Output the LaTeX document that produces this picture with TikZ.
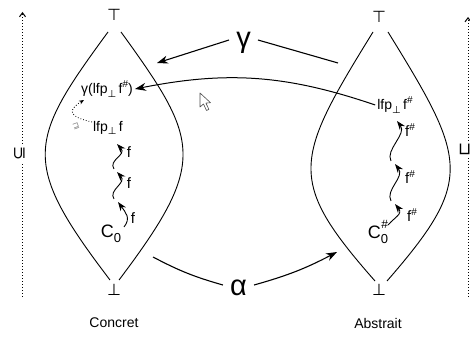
\documentclass[tikz,border=0pt]{standalone}
\usepackage{fontspec}
\setmainfont{Liberation Sans}
\newfontfamily\symfont{DejaVu Sans}
\usetikzlibrary{arrows.meta}
\newcommand{\fs}[1]{\fontsize{#1}{#1}\selectfont}
\newcommand{\botsub}{\raisebox{-3.5pt}{\fs{10}\symfont ⊥}}
\newcommand{\shsup}{\raisebox{6pt}{\fs{10}\#}}
\begin{document}
\begin{tikzpicture}[x=1pt,y=1pt,
  lens/.style={line width=0.9pt},
  wave/.style={line width=0.9pt,-{Stealth[length=9pt,width=6.5pt]}},
  big/.style={line width=1.1pt},
  bigtip/.style={big,-{Stealth[length=11pt,width=8pt]}},
  axisline/.style={line width=1pt,dash pattern=on 1pt off 2pt,-{Straight Barb[length=4pt,width=6pt]}},
  axlbl/.style={fill=white,rotate=90,font=\symfont\fs{17},inner sep=1pt},
  txt/.style={inner sep=2pt,font=\fs{14}},
  flbl/.style={inner sep=1pt,font=\fs{15}},
  bottop/.style={inner sep=1pt,font=\symfont\fs{16}},
  greek/.style={inner xsep=7pt,inner ysep=1pt,font=\fs{29}},
  caption/.style={font=\fs{14}}]
\useasboundingbox (0,0) rectangle (470,339);

% axes
\coordinate (axLb) at (22.5,42);
\coordinate (axLt) at (22.5,327);
\coordinate (axRb) at (468,42);
\coordinate (axRt) at (468,322);
\draw[axisline] (axLb) -- (axLt);
\draw[axisline] (axRb) -- (axRt);
\node[axlbl] (subl) at (19.5,185.5) {⊆};
\node[axlbl] (sqsub) at (466,189.5) {⊑};

% lenses
\draw[lens] (108,307) .. controls (28,198) and (20,177) .. (110,59);
\draw[lens] (121,307) .. controls (200,198) and (208,177) .. (119,59);
\draw[lens] (373,307) .. controls (294,179) and (286,159) .. (375,58);
\draw[lens] (388,307) .. controls (467,179) and (475,159) .. (387,58);

\node[bottop] (topL) at (114,324) {⊤};
\node[bottop] (botL) at (114,49) {⊥};
\node[bottop] (topR) at (379,322.5) {⊤};
\node[bottop] (botR) at (379,49.5) {⊥};

% concrete side
\node[txt] (glfp) at (107,250) {γ(lfp\botsub\,f\shsup)};
\node[txt] (lfpL) at (108,211) {lfp\botsub\,f};
\node[inner sep=1pt] (c0) at (111,105) {\fs{18}C\raisebox{-5pt}{\fs{13}0}};

\coordinate (l1s) at (124,112);
\coordinate (l1t) at (118,137);
\coordinate (l2s) at (114,140);
\coordinate (l2t) at (117,167);
\coordinate (l3s) at (114,170);
\coordinate (l3t) at (117,195);
\draw[wave] (l1s) .. controls +(7,9) and +(8,-11) .. (l1t);
\draw[wave] (l2s) .. controls +(-6,9) and +(10,-11) .. (l2t);
\draw[wave] (l3s) .. controls +(-6,9) and +(10,-11) .. (l3t);
\node[flbl] (f1) at (133,121) {f};
\node[flbl] (f2) at (129,156) {f};
\node[flbl] (f3) at (129,187) {f};

% dotted arrow and small glyph
\coordinate (d1) at (92,217);
\coordinate (d3) at (84,239);
\draw[line width=0.8pt,dotted,-{Stealth[length=5pt,width=4pt]}] (d1) .. controls (70,222) and (66,228) .. (d3);
\node[inner sep=0pt,text=gray,font=\symfont\fs{8},rotate=20] (sqg) at (76,213) {⊒};

% abstract side
\node[txt] (lfpR) at (395,234) {lfp\botsub\,f\shsup};
\node[inner sep=1pt] (c0a) at (378,107) {\fs{18}C\raisebox{-5pt}{\fs{13}0}\llap{\raisebox{10pt}{\fs{12}\#}}};

\coordinate (r1s) at (388,114);
\coordinate (r1t) at (395,135);
\coordinate (r2s) at (391,138);
\coordinate (r2t) at (395,175);
\coordinate (r3s) at (391,178);
\coordinate (r3t) at (397,218);
\draw[wave] (r1s) .. controls +(7,8) and +(8,-10) .. (r1t);
\draw[wave] (r2s) .. controls +(-6,11) and +(10,-13) .. (r2t);
\draw[wave] (r3s) .. controls +(-6,11) and +(10,-13) .. (r3t);
\node[flbl] (g1) at (412,124) {f\shsup};
\node[flbl] (g2) at (410,162) {f\shsup};
\node[flbl] (g3) at (410,209) {f\shsup};

% gamma(lfp f#) arrow
\draw[bigtip,line width=1pt] (lfpR.west) to[bend right=15] (glfp.east);

% gamma and alpha
\node[greek] (gamma) at (243.5,296) {γ};
\coordinate (gR) at (338,276);
\coordinate (gL) at (157,276);
\draw[big] (gR) -- ([yshift=3pt]gamma.east);
\draw[bigtip] ([yshift=3pt]gamma.west) -- (gL);

\node[greek] (alpha) at (238.5,51) {α};
\coordinate (aL) at (153,82);
\coordinate (aR) at (337,87);
\draw[big] (aL) to[bend right=6] ([yshift=3pt]alpha.west);
\draw[bigtip] ([yshift=3pt]alpha.east) to[bend right=6] (aR);

% cursor
\draw[gray!60!black,line width=0.6pt,fill=white,line join=round]
  (200,246) -- ++(0,-14) -- ++(3.5,3) -- ++(3,-6.5) -- ++(2.4,1.1) -- ++(-3,6.3) -- ++(4.6,0.4) -- cycle;

% captions
\node[caption] (concret) at (114,16) {Concret};
\node[caption] (abstrait) at (378,16) {Abstrait};
\end{tikzpicture}
\end{document}
